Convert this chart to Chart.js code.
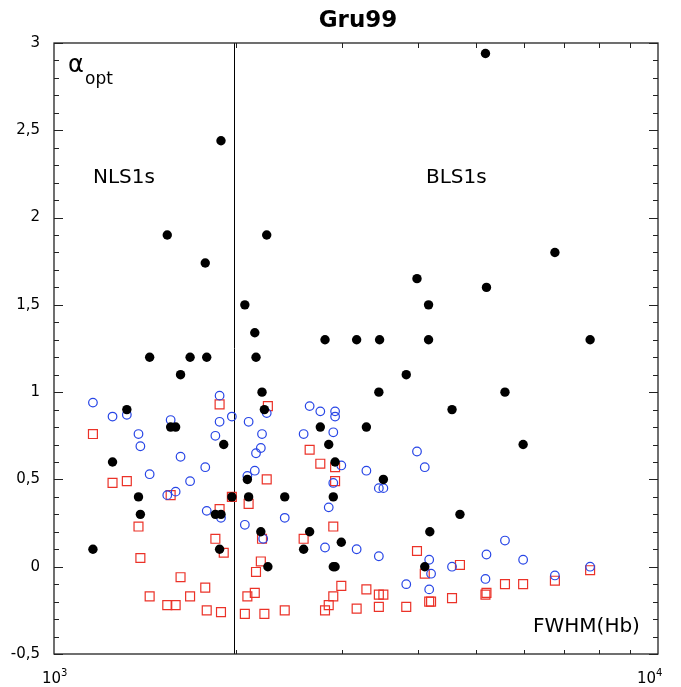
<!DOCTYPE html>
<html>
<head>
<meta charset="utf-8">
<script src="https://cdn.jsdelivr.net/npm/chart.js@4.4.1/dist/chart.umd.min.js"></script>
<style>
  html, body { margin: 0; padding: 0; background: #fff; }
  canvas { display: block; }
</style>
</head>
<body>
<canvas id="gruChart" width="681" height="687"></canvas>
<script>
// filled black circles
const filledFwhm = [5180, 1890, 1540, 2250, 6750, 1780, 3990, 5200, 2070, 4170,
    2150, 2810, 3170, 3460, 4170, 7720, 1440, 1680, 1790, 2160,
    1620, 3830, 2210, 3450, 5580, 1320, 2230, 4560, 1560, 1590,
    2760, 3290, 1910, 2850, 5980, 1250, 2920, 2090, 3510, 1380,
    1970, 2100, 2410, 2900, 1390, 1850, 1890, 4700, 2200, 2650,
    4190, 2990, 1160, 1880, 2590, 2260, 2900, 2920, 4110];
const filledAlpha = [2.94, 2.44, 1.90, 1.90, 1.80, 1.74, 1.65, 1.60, 1.50, 1.50,
    1.34, 1.30, 1.30, 1.30, 1.30, 1.30, 1.20, 1.20, 1.20, 1.20,
    1.10, 1.10, 1.00, 1.00, 1.00, 0.90, 0.90, 0.90, 0.80, 0.80,
    0.80, 0.80, 0.70, 0.70, 0.70, 0.60, 0.60, 0.50, 0.50, 0.40,
    0.40, 0.40, 0.40, 0.40, 0.30, 0.30, 0.30, 0.30, 0.20, 0.20,
    0.20, 0.14, 0.10, 0.10, 0.10, 0.00, 0.00, 0.00, 0.00];

// open blue circles
const circleFwhm = [1160, 1880, 1250, 1320, 1560, 1880, 1970, 2100, 1380, 1850,
    1390, 1620, 1780, 1440, 1680, 1540, 1590, 1790, 1890, 2070,
    2090, 2250, 2650, 2760, 2920, 2920, 2210, 2590, 2900, 2200,
    2160, 2150, 2990, 3290, 3990, 4110, 2900, 3450, 3510, 2850,
    2410, 2220, 2810, 3170, 3450, 3830, 4180, 4180, 4210, 5580,
    5200, 5980, 4560, 7720, 6750, 5180];
const circleAlpha = [0.94, 0.98, 0.86, 0.87, 0.84, 0.83, 0.86, 0.83, 0.76, 0.75,
    0.69, 0.63, 0.57, 0.53, 0.49, 0.41, 0.43, 0.32, 0.28, 0.24,
    0.52, 0.88, 0.92, 0.89, 0.89, 0.86, 0.76, 0.76, 0.77, 0.68,
    0.65, 0.55, 0.58, 0.55, 0.66, 0.57, 0.48, 0.45, 0.45, 0.34,
    0.28, 0.16, 0.11, 0.10, 0.06, -0.10, 0.04, -0.13, -0.04, 0.15,
    0.07, 0.04, 0.00, 0.00, -0.05, -0.07];

// open red squares
const squareFwhm = [1880, 1160, 1250, 1320, 1560, 1970, 1880, 1380, 1850, 1910,
    1390, 1620, 1780, 1440, 1680, 1540, 1590, 1790, 1890, 2090,
    2070, 2260, 2650, 2760, 2920, 2250, 2920, 2100, 2900, 2590,
    2210, 3990, 2200, 2160, 4110, 2990, 2150, 3290, 3450, 3510,
    2900, 2850, 2810, 3170, 3450, 3830, 2410, 2230, 4700, 7720,
    6750, 5580, 5980, 5200, 5180, 4560, 4180, 4210];
const squareAlpha = [0.93, 0.76, 0.48, 0.49, 0.41, 0.40, 0.33, 0.23, 0.16, 0.08,
    0.05, -0.06, -0.12, -0.17, -0.17, -0.22, -0.22, -0.25, -0.26, -0.17,
    -0.27, 0.92, 0.67, 0.59, 0.57, 0.50, 0.49, 0.36, 0.23, 0.16,
    0.16, 0.09, 0.03, -0.03, -0.04, -0.11, -0.15, -0.13, -0.16, -0.16,
    -0.17, -0.22, -0.25, -0.24, -0.23, -0.23, -0.25, -0.27, 0.01, -0.02,
    -0.08, -0.10, -0.10, -0.15, -0.16, -0.18, -0.20, -0.20];

// axis ticks
const yTickValues = [-0.5, 0, 0.5, 1, 1.5, 2, 2.5, 3];
const yTickLabels = ['-0,5', '0', '0,5', '1', '1,5', '2', '2,5', '3'];
const xMinorValues = [2000, 3000, 4000, 5000, 6000, 7000, 8000, 9000];
const dividerFwhm = 1990;

function toPoints(xs, ys) {
    return xs.map((x, i) => ({ x: x, y: ys[i] }));
}

const FONT = '"DejaVu Sans", sans-serif';

// Frame, inner ticks, labels and annotations
const framePlugin = {
    id: 'frame',
    beforeDatasetsDraw(chart) {
        const ctx = chart.ctx;
        const a = chart.chartArea;
        const xs = chart.scales.x;
        const px = xs.getPixelForValue(dividerFwhm);
        ctx.save();
        ctx.strokeStyle = '#000';
        ctx.lineWidth = 1;
        ctx.beginPath();
        ctx.moveTo(px, a.top);
        ctx.lineTo(px, a.bottom);
        ctx.stroke();
        ctx.restore();
    },
    afterDraw(chart) {
        const ctx = chart.ctx;
        const a = chart.chartArea;
        const xs = chart.scales.x;
        const ys = chart.scales.y;
        ctx.save();

        // frame
        ctx.strokeStyle = '#222';
        ctx.lineWidth = 1.3;
        ctx.strokeRect(a.left, a.top, a.right - a.left, a.bottom - a.top);

        // y ticks, left and right, pointing inside
        ctx.lineWidth = 1;
        ctx.beginPath();
        for (let i = -5; i <= 30; i++) {
            const y = Math.round(ys.getPixelForValue(i / 10)) + 0.5;
            const len = (i % 5 === 0) ? 9 : 5;
            ctx.moveTo(a.left, y);
            ctx.lineTo(a.left + len, y);
            ctx.moveTo(a.right, y);
            ctx.lineTo(a.right - len, y);
        }
        // x minor ticks, top and bottom
        xMinorValues.forEach(v => {
            const x = Math.round(xs.getPixelForValue(v)) + 0.5;
            ctx.moveTo(x, a.top);
            ctx.lineTo(x, a.top + 5);
            ctx.moveTo(x, a.bottom);
            ctx.lineTo(x, a.bottom - 4);
        });
        ctx.stroke();

        // y tick labels
        ctx.fillStyle = '#000';
        ctx.font = '15px ' + FONT;
        ctx.textAlign = 'right';
        ctx.textBaseline = 'middle';
        yTickValues.forEach((v, i) => {
            ctx.fillText(yTickLabels[i], a.left - 14, ys.getPixelForValue(v));
        });

        // x labels 10^3 and 10^4
        ctx.textAlign = 'left';
        ctx.textBaseline = 'alphabetic';
        [[1000, '3', -12], [10000, '4', -21]].forEach(([v, exp, dx]) => {
            const x = xs.getPixelForValue(v) + dx;
            ctx.font = '15px ' + FONT;
            ctx.fillText('10', x, a.bottom + 29);
            const w = ctx.measureText('10').width;
            ctx.font = '10px ' + FONT;
            ctx.fillText(exp, x + w, a.bottom + 22);
        });

        // title
        ctx.font = 'bold 23px ' + FONT;
        ctx.textAlign = 'center';
        ctx.fillText('Gru99', 358, 27);

        // annotations
        ctx.textAlign = 'left';
        ctx.font = '24px ' + FONT;
        ctx.fillText('\u03B1', a.left + 14, a.top + 29);
        ctx.font = '17px ' + FONT;
        ctx.fillText('opt', a.left + 31, a.top + 41);
        ctx.font = '20px ' + FONT;
        ctx.fillText('NLS1s', 93, 183);
        ctx.fillText('BLS1s', 426, 183);
        ctx.fillText('FWHM(Hb)', 533, 632);

        ctx.restore();
    }
};

new Chart(document.getElementById('gruChart').getContext('2d'), {
    type: 'scatter',
    data: {
        datasets: [
            {
                label: 'filled',
                data: toPoints(filledFwhm, filledAlpha),
                pointStyle: 'circle',
                pointRadius: 4.7,
                backgroundColor: '#000',
                borderColor: '#000',
                borderWidth: 0
            },
            {
                label: 'circles',
                data: toPoints(circleFwhm, circleAlpha),
                pointStyle: 'circle',
                pointRadius: 4.3,
                backgroundColor: 'rgba(0,0,0,0)',
                borderColor: 'rgb(40, 70, 230)',
                borderWidth: 1.2
            },
            {
                label: 'squares',
                data: toPoints(squareFwhm, squareAlpha),
                pointStyle: 'rect',
                pointRadius: 6.3,
                backgroundColor: 'rgba(0,0,0,0)',
                borderColor: 'rgb(235, 50, 40)',
                borderWidth: 1.2
            }
        ]
    },
    options: {
        responsive: false,
        animation: false,
        devicePixelRatio: 1,
        layout: { padding: { left: 54, right: 23, top: 43, bottom: 33 } },
        plugins: {
            legend: { display: false },
            tooltip: { enabled: false },
            title: { display: false }
        },
        scales: {
            x: { type: 'logarithmic', min: 1000, max: 10000, display: false },
            y: { type: 'linear', min: -0.5, max: 3, display: false }
        }
    },
    plugins: [framePlugin]
});
</script>
</body>
</html>
